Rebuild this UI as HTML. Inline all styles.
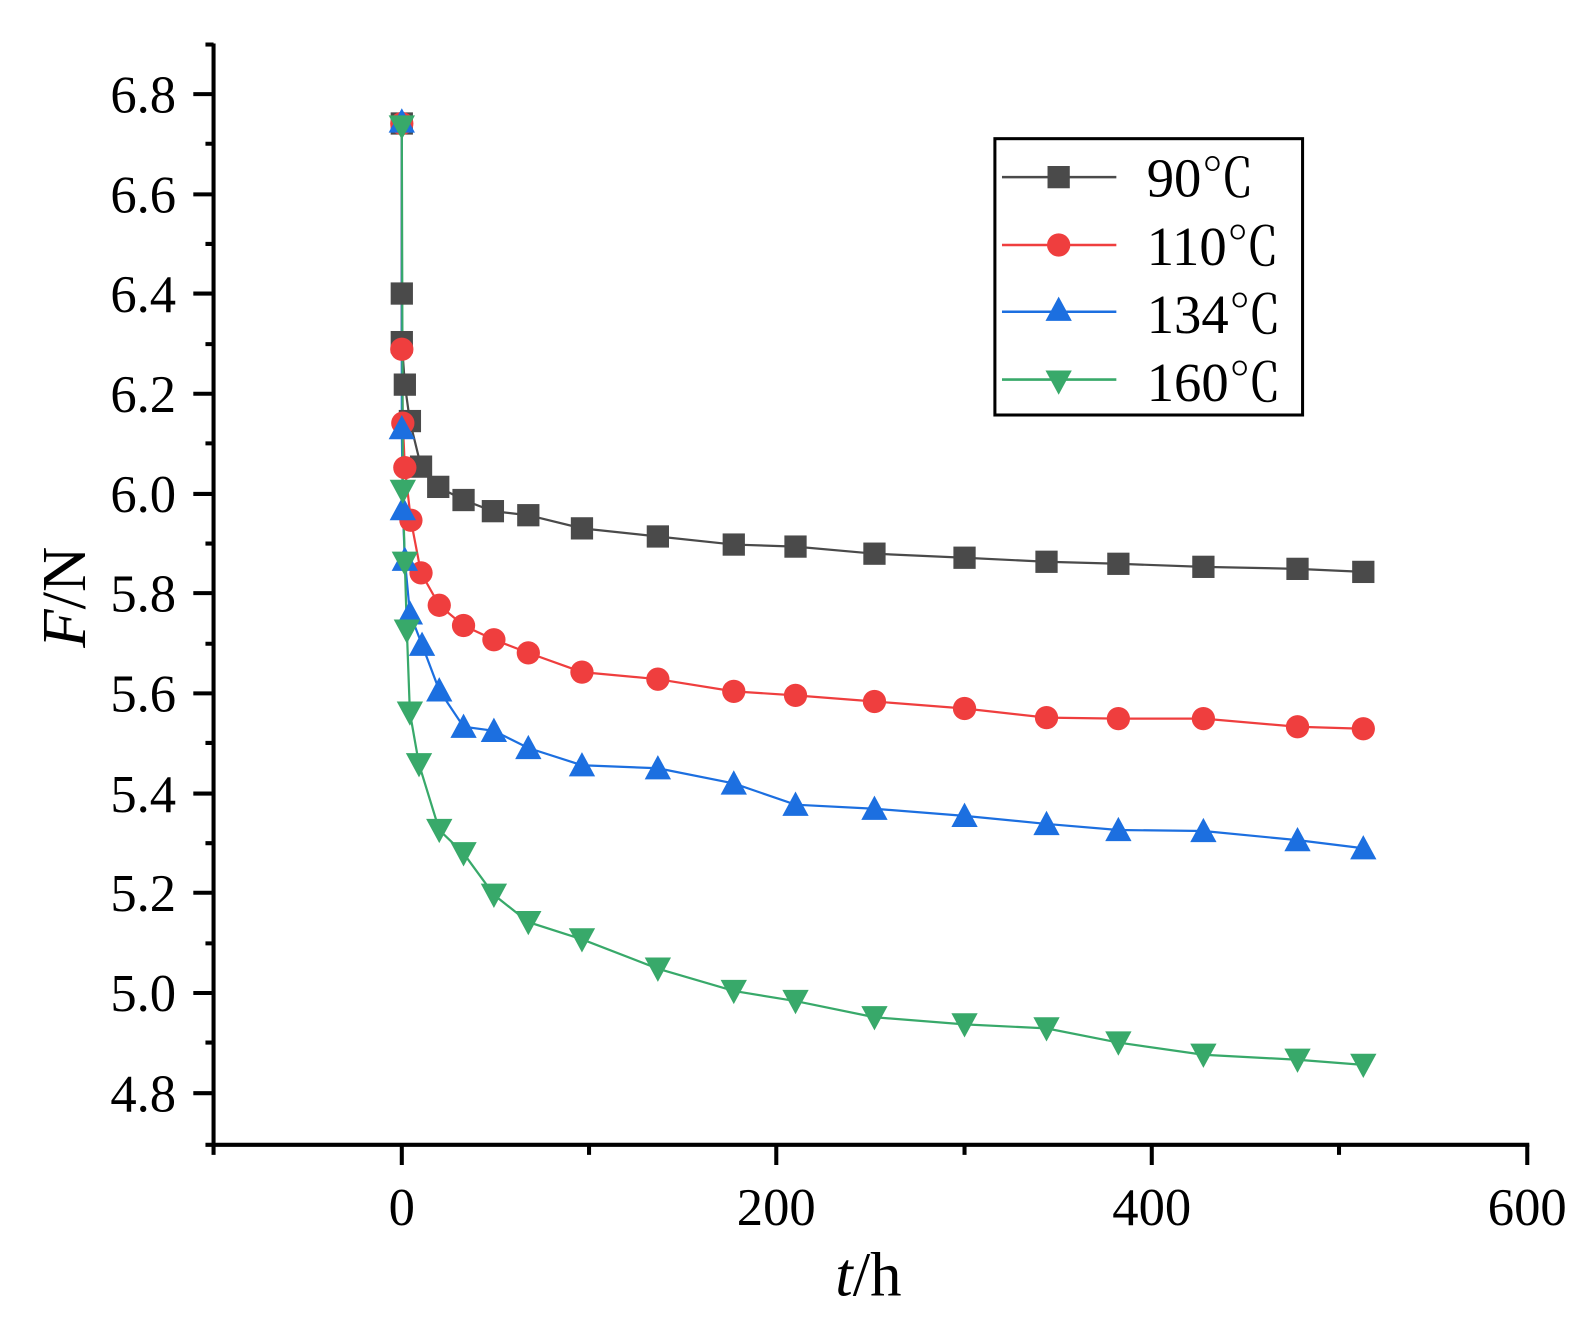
<!DOCTYPE html>
<html><head><meta charset="utf-8"><style>html,body{margin:0;padding:0;background:#fff}svg{display:block}</style></head>
<body>
<svg width="1589" height="1327" viewBox="0 0 1570 1311" preserveAspectRatio="none" xmlns="http://www.w3.org/2000/svg" font-family="'Liberation Serif', 'Noto Serif CJK SC', serif">
<rect width="1570" height="1311" fill="#fff"/>
<g stroke="#000" stroke-width="4" fill="none">
<line x1="211" y1="43" x2="211" y2="1133"/>
<line x1="209" y1="1131" x2="1511" y2="1131"/>
<line x1="203" y1="44" x2="211" y2="44"/>
<path d="M191 93H211M203 142H211M191 192H211M203 241H211M191 290H211M203 340H211M191 389H211M203 438H211M191 488H211M203 537H211M191 586H211M203 636H211M191 685H211M203 734H211M191 784H211M203 833H211M191 882H211M203 932H211M191 981H211M203 1030H211M191 1080H211M203 1131H211"/>
<path d="M211 1131V1141M397 1131V1151M582 1131V1141M767 1131V1151M953 1131V1141M1138 1131V1151M1323 1131V1141M1509 1131V1151"/>
</g>
<g font-size="52" text-anchor="end" fill="#000">
<text x="174" y="111">6.8</text><text x="174" y="210">6.6</text><text x="174" y="308">6.4</text><text x="174" y="407">6.2</text><text x="174" y="506">6.0</text><text x="174" y="604">5.8</text><text x="174" y="703">5.6</text><text x="174" y="802">5.4</text><text x="174" y="900">5.2</text><text x="174" y="999">5.0</text><text x="174" y="1098">4.8</text>
</g>
<g font-size="52" text-anchor="middle" fill="#000">
<text x="397" y="1210">0</text><text x="767" y="1210">200</text><text x="1138" y="1210">400</text><text x="1509" y="1210">600</text>
</g>
<text x="858" y="1280" font-size="62" text-anchor="middle"><tspan font-style="italic">t</tspan>/h</text>
<text transform="translate(84,590) rotate(-90)" font-size="62" text-anchor="middle"><tspan font-style="italic">F</tspan>/N</text>

<defs>
<rect id="sq" x="-11" y="-11" width="22" height="22" fill="#4a4a4a"/>
<circle id="ci" r="11.5" fill="#ef3e3e"/>
<polygon id="tu" points="0,-13 13,11 -13,11" fill="#1c6fe0"/>
<polygon id="td" points="0,13 13,-11 -13,-11" fill="#38a96a"/>
</defs>

<g fill="none" stroke-width="2.2">
<polyline stroke="#4a4a4a" points="397,122 397,290 397,338 400,380 405,416 416,461 433,481 458,494 487,505 522,509 575,522 650,530 725,538 786,540 864,547 953,551 1034,555 1105,557 1189,560 1282,562 1347,565"/>
<polyline stroke="#ef3e3e" points="397,122 397,345 398,418 400,462 406,514 416,566 434,598 458,618 488,632 522,645 575,664 650,671 725,683 786,687 864,693 953,700 1034,709 1105,710 1189,710 1282,718 1347,720"/>
<polyline stroke="#1c6fe0" points="397,120 397,423 398,503 400,553 405,606 417,637 434,682 458,718 488,722 522,739 575,756 650,759 725,774 786,795 864,799 953,806 1034,814 1105,820 1189,821 1282,830 1347,838"/>
<polyline stroke="#38a96a" points="397,125 398,485 400,556 402,623 405,704 414,755 434,820 458,843 488,884 522,911 575,928 650,957 725,979 786,989 864,1005 953,1012 1034,1016 1105,1030 1189,1042 1282,1047 1347,1052"/>
</g>
<g>
<use href="#sq" x="397" y="122"/><use href="#sq" x="397" y="290"/><use href="#sq" x="397" y="338"/><use href="#sq" x="400" y="380"/><use href="#sq" x="405" y="416"/><use href="#sq" x="416" y="461"/><use href="#sq" x="433" y="481"/><use href="#sq" x="458" y="494"/><use href="#sq" x="487" y="505"/><use href="#sq" x="522" y="509"/><use href="#sq" x="575" y="522"/><use href="#sq" x="650" y="530"/><use href="#sq" x="725" y="538"/><use href="#sq" x="786" y="540"/><use href="#sq" x="864" y="547"/><use href="#sq" x="953" y="551"/><use href="#sq" x="1034" y="555"/><use href="#sq" x="1105" y="557"/><use href="#sq" x="1189" y="560"/><use href="#sq" x="1282" y="562"/><use href="#sq" x="1347" y="565"/>
<use href="#ci" x="397" y="122"/><use href="#ci" x="397" y="345"/><use href="#ci" x="398" y="418"/><use href="#ci" x="400" y="462"/><use href="#ci" x="406" y="514"/><use href="#ci" x="416" y="566"/><use href="#ci" x="434" y="598"/><use href="#ci" x="458" y="618"/><use href="#ci" x="488" y="632"/><use href="#ci" x="522" y="645"/><use href="#ci" x="575" y="664"/><use href="#ci" x="650" y="671"/><use href="#ci" x="725" y="683"/><use href="#ci" x="786" y="687"/><use href="#ci" x="864" y="693"/><use href="#ci" x="953" y="700"/><use href="#ci" x="1034" y="709"/><use href="#ci" x="1105" y="710"/><use href="#ci" x="1189" y="710"/><use href="#ci" x="1282" y="718"/><use href="#ci" x="1347" y="720"/>
<use href="#tu" x="397" y="120"/><use href="#tu" x="397" y="423"/><use href="#tu" x="398" y="503"/><use href="#tu" x="400" y="553"/><use href="#tu" x="405" y="606"/><use href="#tu" x="417" y="637"/><use href="#tu" x="434" y="682"/><use href="#tu" x="458" y="718"/><use href="#tu" x="488" y="722"/><use href="#tu" x="522" y="739"/><use href="#tu" x="575" y="756"/><use href="#tu" x="650" y="759"/><use href="#tu" x="725" y="774"/><use href="#tu" x="786" y="795"/><use href="#tu" x="864" y="799"/><use href="#tu" x="953" y="806"/><use href="#tu" x="1034" y="814"/><use href="#tu" x="1105" y="820"/><use href="#tu" x="1189" y="821"/><use href="#tu" x="1282" y="830"/><use href="#tu" x="1347" y="838"/>
<use href="#td" x="397" y="125"/><use href="#td" x="398" y="485"/><use href="#td" x="400" y="556"/><use href="#td" x="402" y="623"/><use href="#td" x="405" y="704"/><use href="#td" x="414" y="755"/><use href="#td" x="434" y="820"/><use href="#td" x="458" y="843"/><use href="#td" x="488" y="884"/><use href="#td" x="522" y="911"/><use href="#td" x="575" y="928"/><use href="#td" x="650" y="957"/><use href="#td" x="725" y="979"/><use href="#td" x="786" y="989"/><use href="#td" x="864" y="1005"/><use href="#td" x="953" y="1012"/><use href="#td" x="1034" y="1016"/><use href="#td" x="1105" y="1030"/><use href="#td" x="1189" y="1042"/><use href="#td" x="1282" y="1047"/><use href="#td" x="1347" y="1052"/>
</g>

<rect x="983" y="137" width="304" height="273" fill="#fff" stroke="#000" stroke-width="3"/>
<g stroke-width="2.5">
<line x1="990" y1="175" x2="1103" y2="175" stroke="#4a4a4a"/>
<line x1="990" y1="242" x2="1103" y2="242" stroke="#ef3e3e"/>
<line x1="990" y1="308" x2="1103" y2="308" stroke="#1c6fe0"/>
<line x1="990" y1="375" x2="1103" y2="375" stroke="#38a96a"/>
</g>
<use href="#sq" x="1046" y="175"/><use href="#ci" x="1046" y="242"/><use href="#tu" x="1046" y="306"/><use href="#td" x="1046" y="377"/>
<g font-size="54" fill="#000">
<text x="1133" y="194">90<tspan font-family="'Noto Serif CJK SC', serif" font-size="52">℃</tspan></text>
<text x="1133" y="262">110<tspan font-family="'Noto Serif CJK SC', serif" font-size="52">℃</tspan></text>
<text x="1133" y="329">134<tspan font-family="'Noto Serif CJK SC', serif" font-size="52">℃</tspan></text>
<text x="1133" y="396">160<tspan font-family="'Noto Serif CJK SC', serif" font-size="52">℃</tspan></text>
</g>
</svg>
</body></html>
